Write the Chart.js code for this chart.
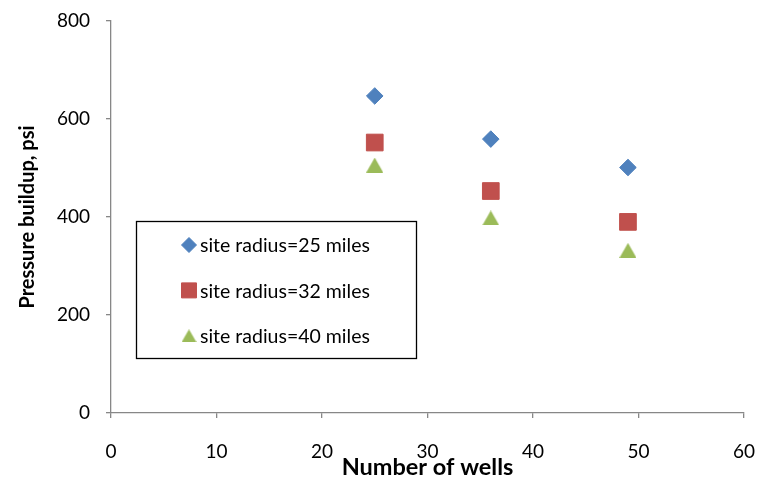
<!DOCTYPE html>
<html>
<head>
<meta charset="utf-8">
<script src="https://cdn.jsdelivr.net/npm/chart.js@4/dist/chart.umd.min.js"></script>
<style>
  html, body { margin: 0; padding: 0; background: #fff; }
  #wrap { width: 757px; height: 479px; }
</style>
</head>
<body>
<div id="wrap"><canvas id="chart" width="757" height="479"></canvas></div>
<script>
// wells vs pressure buildup, one series per site radius
var wells = [25, 36, 49];
var radius25 = [647, 559, 501];
var radius32 = [552, 453, 390];
var radius40 = [506, 398, 332];
var seriesNames = ['site radius=25 miles', 'site radius=32 miles', 'site radius=40 miles'];
var xTicks = [0, 10, 20, 30, 40, 50, 60];
var yTicks = [0, 200, 400, 600, 800];

var FONT = 'Lato, "Open Sans", "DejaVu Sans", sans-serif';
var AXIS = '#878787';
var GREEN = '#9BBB59';

function toPoints(ys) {
  return wells.map(function(x, i) { return { x: x, y: ys[i] }; });
}

// Excel-style triangle marker, centred on its bounding box
function triMarker(w, h, color) {
  var c = document.createElement('canvas');
  c.width = w; c.height = h;
  var g = c.getContext('2d');
  g.fillStyle = color;
  g.beginPath();
  g.moveTo(w / 2, 0);
  g.lineTo(w, h);
  g.lineTo(0, h);
  g.closePath();
  g.fill();
  return c;
}

function mkSet(label, ys, color, style, r) {
  return {
    label: label,
    data: toPoints(ys),
    backgroundColor: color,
    borderColor: color,
    borderWidth: 1,
    pointStyle: style,
    pointRadius: r,
    pointHoverRadius: r,
    showLine: false
  };
}

// keep label overflow from shrinking the plot area
function noScalePad(s) {
  s.paddingLeft = 0; s.paddingRight = 0; s.paddingTop = 0; s.paddingBottom = 0;
}

// boxed legend sitting inside the plot area
var boxLegend = {
  id: 'boxLegend',
  afterDraw: function(chart) {
    var ctx = chart.ctx;
    var box = { l: 136, t: 221, w: 280, h: 137 };
    var styles = ['rectRot', 'rect', triMarker(15, 13, GREEN)];
    var sizes = [7.5, 10.6, 8];
    ctx.save();
    ctx.fillStyle = '#fff';
    ctx.fillRect(box.l, box.t, box.w, box.h);
    ctx.strokeStyle = '#000';
    ctx.lineWidth = 1.3;
    ctx.strokeRect(box.l + 0.5, box.t + 0.5, box.w, box.h);
    ctx.font = '19.5px ' + FONT;
    ctx.textBaseline = 'middle';
    ctx.textAlign = 'left';
    chart.data.datasets.forEach(function(ds, i) {
      var y = 245 + i * 45.4;
      ctx.fillStyle = ds.backgroundColor;
      ctx.strokeStyle = ds.borderColor;
      ctx.lineWidth = 1;
      Chart.helpers.drawPoint(ctx, { pointStyle: styles[i], radius: sizes[i], rotation: 0, borderWidth: 1 }, 189, y);
      ctx.fillStyle = '#000';
      ctx.fillText(ds.label, 200, y + 1);
    });
    ctx.restore();
  }
};

var ctx = document.getElementById('chart').getContext('2d');
new Chart(ctx, {
  type: 'scatter',
  data: {
    datasets: [
      mkSet(seriesNames[0], radius25, '#4F81BD', 'rectRot', 8.3),
      mkSet(seriesNames[1], radius32, '#C0504D', 'rect', 11.8),
      mkSet(seriesNames[2], radius40, GREEN, triMarker(17, 15, GREEN), 9)
    ]
  },
  options: {
    responsive: false,
    animation: false,
    layout: { padding: { top: 21, right: 13, left: 0, bottom: 0 } },
    plugins: {
      legend: { display: false },
      tooltip: { enabled: false }
    },
    scales: {
      x: {
        type: 'linear',
        min: 0, max: 60,
        afterFit: function(s) { s.height = 66; noScalePad(s); },
        afterBuildTicks: function(s) { s.ticks = xTicks.map(function(v) { return { value: v }; }); },
        grid: { drawOnChartArea: false, drawTicks: true, tickLength: 5, color: AXIS, lineWidth: 1.3 },
        border: { color: AXIS, width: 1.3 },
        ticks: { color: '#000', padding: 22, maxRotation: 0, font: { family: FONT, size: 19 } },
        title: { display: true, text: 'Number of wells', color: '#000', padding: { top: 0, bottom: 0 }, font: { family: FONT, size: 23.5, weight: 'bold', lineHeight: 1 } }
      },
      y: {
        type: 'linear',
        min: 0, max: 800,
        afterFit: function(s) { s.width = 111; noScalePad(s); },
        afterBuildTicks: function(s) { s.ticks = yTicks.map(function(v) { return { value: v }; }); },
        grid: { drawOnChartArea: false, drawTicks: true, tickLength: 5, color: AXIS, lineWidth: 1.3 },
        border: { color: AXIS, width: 1.3 },
        ticks: { color: '#000', padding: 16, font: { family: FONT, size: 19 } },
        title: { display: true, text: 'Pressure buildup, psi', color: '#000', padding: { top: 16, bottom: 0 }, font: { family: FONT, size: 20, weight: 'bold' } }
      }
    }
  },
  plugins: [boxLegend]
});
</script>
</body>
</html>
